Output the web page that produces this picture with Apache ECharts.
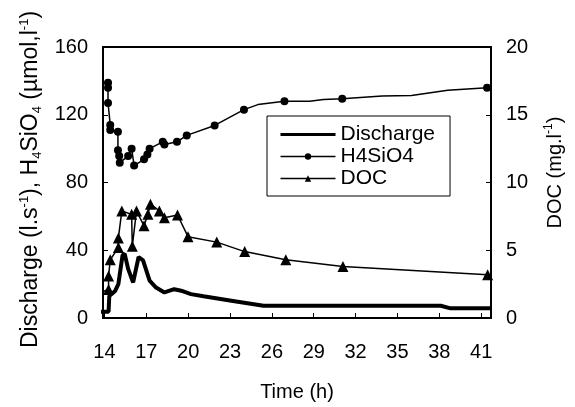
<!DOCTYPE html>
<html>
<head>
<meta charset="utf-8">
<script src="https://cdn.jsdelivr.net/npm/echarts@6/dist/echarts.min.js"></script>
<style>
  html, body { margin: 0; padding: 0; background: #fff; }
  #chart { width: 575px; height: 407px; }
</style>
</head>
<body>
<div id="chart"></div>
<script>
// x tick labels (h)
var timeTicks = [14, 17, 20, 23, 26, 29, 32, 35, 38, 41];

// Discharge (l.s-1), left axis
var qTime = [13.75, 14.3, 14.35, 14.77, 15.0, 15.3, 15.45, 15.7, 16.06, 16.45, 16.77, 17.24, 17.7, 18.3, 19.0, 19.5, 20.2, 21.1, 23.1, 25.4, 38.1, 38.8, 41.65];
var qValue = [3.7, 3.7, 13, 16, 20, 37, 38, 29, 21, 36, 34, 22, 18, 15.1, 17, 16.1, 14.1, 12.8, 10.2, 7.2, 7.2, 5.7, 5.7];

// H4SiO4 (umol.l-1), left axis
var siTime = [13.75, 14.26, 14.26, 14.26, 14.42, 14.42, 14.97, 14.97, 15.06, 15.1, 15.7, 15.95, 16.13, 16.84, 17.08, 17.24, 18.18, 18.3, 19.2, 19.9, 21.9, 24.0, 25.0, 26.9, 28.7, 29.7, 31.04, 33.9, 36.0, 38.6, 41.42];
var siValue = [139, 138.9, 136, 127, 114, 111, 110, 99, 95.6, 91.7, 95.6, 100, 90, 93.7, 96.6, 100, 104, 102.5, 104, 107.8, 113.7, 123, 126, 128, 128, 129, 129.4, 131, 131.4, 134.5, 136];
// points drawn without a marker in the original
var siNoMark = [0, 22, 24, 25, 27, 28, 29];

// DOC (mg.l-1), right axis
var docTime = [13.75, 14.3, 14.3, 14.42, 15.0, 15.0, 15.25, 15.95, 16.0, 16.3, 16.84, 17.12, 17.3, 17.94, 18.3, 19.24, 19.99, 22.05, 24.05, 27.0, 31.09, 41.46];
var docValue = [1.9, 2.1, 3.1, 4.3, 5.2, 5.9, 7.9, 7.65, 5.3, 7.9, 6.8, 7.66, 8.4, 7.9, 7.4, 7.6, 6.0, 5.6, 4.9, 4.3, 3.8, 3.2];
var docNoMark = [0];

function pairs(xs, ys, noMark) {
  return xs.map(function (x, i) {
    var item = { value: [x, ys[i]] };
    if (noMark && noMark.indexOf(i) >= 0) item.symbol = 'none';
    return item;
  });
}

var font = "'Liberation Sans', Arial, sans-serif";
var chart = echarts.init(document.getElementById('chart'), null, { renderer: 'canvas' });

chart.setOption({
  animation: false,
  backgroundColor: '#fff',
  textStyle: { fontFamily: font, color: '#000' },
  grid: {
    left: 103, right: 78, top: 47, bottom: 88,
    show: true, borderColor: '#000', borderWidth: 2
  },
  legend: {
    orient: 'vertical',
    left: 267, top: 116,
    padding: [8, 15, 7, 12],
    borderColor: '#000', borderWidth: 1,
    backgroundColor: '#fff',
    itemWidth: 55, itemHeight: 8, itemGap: 1,
    textStyle: { fontSize: 21, lineHeight: 21, fontFamily: font, color: '#000' },
    data: [
      { name: 'Discharge', itemStyle: { opacity: 0 }, lineStyle: { width: 3, color: '#000' } },
      { name: 'H4SiO4', itemStyle: { color: '#000' }, lineStyle: { width: 1.5, color: '#000' } },
      { name: 'DOC', itemStyle: { color: '#000' }, lineStyle: { width: 1.5, color: '#000' } }
    ]
  },
  xAxis: {
    type: 'value',
    min: 13.9, max: 41.7,
    name: 'Time (h)',
    nameLocation: 'middle',
    nameGap: 64,
    nameTextStyle: { fontSize: 20, fontFamily: font, color: '#000' },
    axisLine: { lineStyle: { color: '#000', width: 2 } },
    axisTick: { inside: true, length: 5, customValues: timeTicks, lineStyle: { color: '#000' } },
    axisLabel: { customValues: timeTicks, fontSize: 20, margin: 24, color: '#000', fontFamily: font },
    splitLine: { show: false }
  },
  yAxis: [{
    type: 'value',
    min: 0, max: 160, interval: 40,
    name: 'Discharge (l.s{sup|-1}), H{sub|4}SiO{sub|4} (µmol,l{sup|-1})',
    nameLocation: 'middle',
    nameRotate: 90,
    nameGap: 53,
    nameTextStyle: {
      fontSize: 23, fontFamily: font, color: '#000', lineHeight: 26, padding: [0, 0, 0, 6],
      rich: {
        sup: { fontSize: 13, verticalAlign: 'top', lineHeight: 26, fontFamily: font },
        sub: { fontSize: 13, verticalAlign: 'bottom', lineHeight: 26, fontFamily: font }
      }
    },
    axisLine: { show: true, lineStyle: { color: '#000', width: 2 } },
    axisTick: { show: true, inside: true, length: 5, lineStyle: { color: '#000' } },
    axisLabel: { fontSize: 20, margin: 15, color: '#000', fontFamily: font },
    splitLine: { show: false }
  }, {
    type: 'value',
    position: 'right',
    min: 0, max: 20, interval: 5,
    name: 'DOC (mg.l{sup|-1})',
    nameLocation: 'middle',
    nameRotate: 90,
    nameGap: 52,
    nameTextStyle: {
      fontSize: 20, fontFamily: font, color: '#000', lineHeight: 24, padding: [0, 0, 0, 20],
      rich: {
        sup: { fontSize: 12, verticalAlign: 'top', lineHeight: 24, fontFamily: font }
      }
    },
    axisLine: { show: true, lineStyle: { color: '#000', width: 2 } },
    axisTick: { show: true, inside: true, length: 5, lineStyle: { color: '#000' } },
    axisLabel: { fontSize: 20, margin: 15, color: '#000', fontFamily: font },
    splitLine: { show: false }
  }],
  series: [{
    name: 'Discharge',
    type: 'line',
    yAxisIndex: 0,
    symbol: 'none',
    clip: false,
    lineStyle: { color: '#000', width: 4 },
    itemStyle: { color: '#000' },
    data: pairs(qTime, qValue)
  }, {
    name: 'H4SiO4',
    type: 'line',
    yAxisIndex: 0,
    symbol: 'circle',
    symbolSize: 8,
    clip: false,
    lineStyle: { color: '#000', width: 1.5 },
    itemStyle: { color: '#000' },
    data: pairs(siTime, siValue, siNoMark)
  }, {
    name: 'DOC',
    type: 'line',
    yAxisIndex: 1,
    symbol: 'triangle',
    symbolSize: 11,
    clip: false,
    lineStyle: { color: '#000', width: 1.5 },
    itemStyle: { color: '#000' },
    data: pairs(docTime, docValue, docNoMark)
  }]
});
</script>
</body>
</html>
